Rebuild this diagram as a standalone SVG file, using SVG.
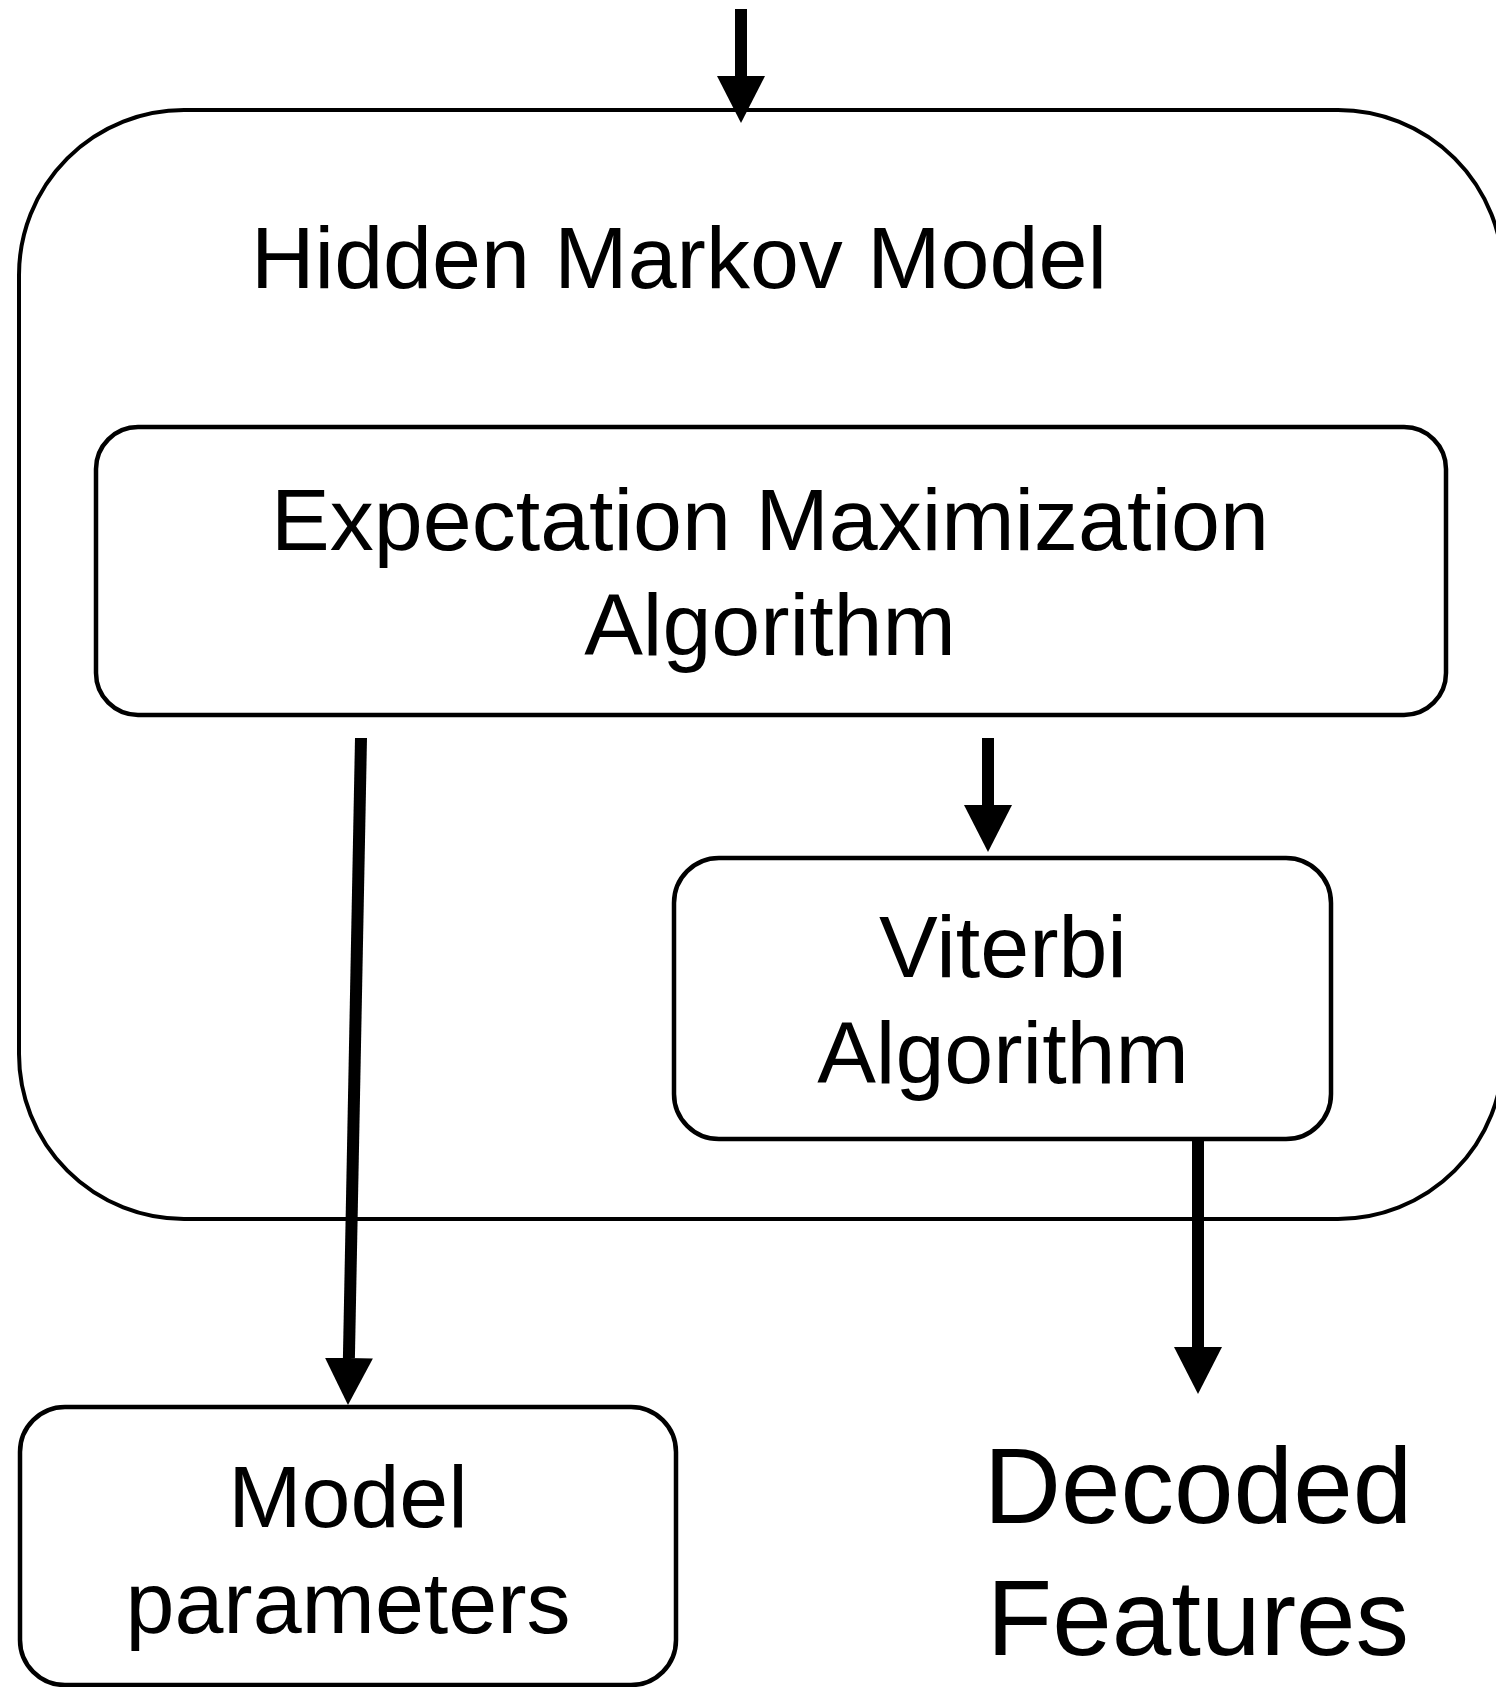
<svg xmlns="http://www.w3.org/2000/svg" width="1496" height="1687" viewBox="0 0 1496 1687">
  <style>
    .box { fill: #ffffff; stroke: #000000; stroke-width: 4.5; }
    .outer { fill: #ffffff; stroke: #000000; stroke-width: 4; }
    .lbl { font-family: "Liberation Sans", Arial, Helvetica, sans-serif; fill: #000000; text-anchor: middle; }
    .conn { stroke: #000000; stroke-width: 12; fill: none; marker-end: url(#ah); }
  </style>
  <defs>
    <marker id="ah" markerUnits="userSpaceOnUse" markerWidth="48" markerHeight="48" viewBox="0 0 48 48" refX="0" refY="24" orient="auto">
      <path d="M0,0 L47,24 L0,48 z" fill="#000000"/>
    </marker>
  </defs>
  <rect x="0" y="0" width="1496" height="1687" fill="#ffffff"/>

  <g id="hmm">
    <rect class="outer" x="19" y="110" width="1484" height="1109" rx="165" ry="165"/>
    <text class="lbl" x="679" y="288" font-size="88">Hidden Markov Model</text>
  </g>

  <g id="em">
    <rect class="box" x="96" y="427" width="1350" height="288" rx="42" ry="42"/>
    <text class="lbl" x="770" y="550" font-size="88">Expectation Maximization</text>
    <text class="lbl" x="770" y="655" font-size="88">Algorithm</text>
  </g>

  <g id="viterbi">
    <rect class="box" x="674" y="858" width="657" height="281" rx="45" ry="45"/>
    <text class="lbl" x="1003" y="977" font-size="88">Viterbi</text>
    <text class="lbl" x="1003" y="1083" font-size="88">Algorithm</text>
  </g>

  <g id="model-parameters">
    <rect class="box" x="20" y="1407" width="656" height="278" rx="45" ry="45"/>
    <text class="lbl" x="348" y="1527" font-size="88">Model</text>
    <text class="lbl" x="348" y="1633" font-size="88">parameters</text>
  </g>

  <g id="decoded-features">
    <text class="lbl" x="1198" y="1523" font-size="107">Decoded</text>
    <text class="lbl" x="1198" y="1655" font-size="107">Features</text>
  </g>

  <g id="connectors">
    <line class="conn" x1="741" y1="9" x2="741" y2="76"/>
    <line class="conn" x1="361" y1="738" x2="348.9" y2="1358"/>
    <line class="conn" x1="988" y1="738" x2="988" y2="805"/>
    <line class="conn" x1="1198" y1="1139" x2="1198" y2="1347"/>
  </g>
</svg>
